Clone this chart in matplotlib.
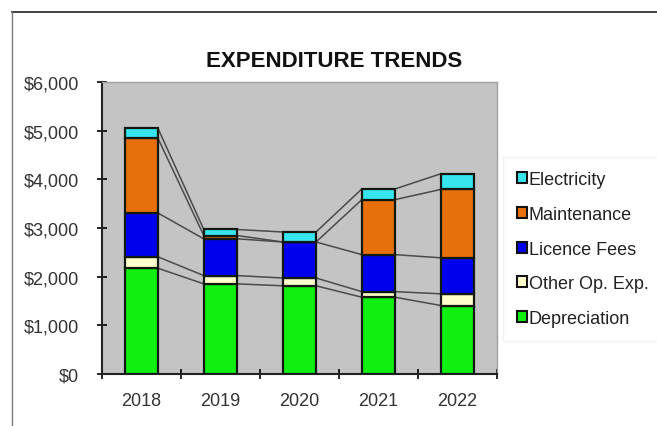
import matplotlib.pyplot as plt
from matplotlib.lines import Line2D
from matplotlib.ticker import FuncFormatter
import numpy as np

plt.rcParams['font.family'] = ['Liberation Sans', 'DejaVu Sans']

years = ['2018', '2019', '2020', '2021', '2022']
depreciation = [2170, 1850, 1810, 1575, 1405]
other_op = [235, 170, 160, 115, 240]
licence = [900, 755, 740, 760, 740]
maintenance = [1535, 68, 0, 1130, 1405]
electricity = [206, 124, 205, 220, 322]

series = [
    ('Depreciation', depreciation, '#10f010'),
    ('Other Op. Exp.', other_op, '#ffffcc'),
    ('Licence Fees', licence, '#0000ee'),
    ('Maintenance', maintenance, '#e8700c'),
    ('Electricity', electricity, '#38e4ee'),
]

fig = plt.figure(figsize=(6.57, 4.27), dpi=100)
ax = fig.add_axes([0.155, 0.122, 0.6015, 0.684])
ax.set_facecolor('#c4c4c4')

x = np.arange(len(years))
w = 0.42
bottom = np.zeros(len(years))
tops = []
for name, vals, col in series:
    vals = np.array(vals, dtype=float)
    ax.bar(x, vals, w, bottom=bottom, color=col, edgecolor='#101810',
           linewidth=1.6, label=name, zorder=3)
    bottom = bottom + vals
    tops.append(bottom.copy())

# series lines between bars
for t in tops:
    for j in range(len(years) - 1):
        ax.plot([x[j] + w / 2, x[j + 1] - w / 2], [t[j], t[j + 1]],
                color='#4a4a4a', lw=1.1, zorder=2)

ax.set_xlim(-0.5, len(years) - 0.5)
ax.set_ylim(0, 6000)
ax.set_yticks(range(0, 6001, 1000))
ax.yaxis.set_major_formatter(FuncFormatter(lambda v, p: '${:,.0f}'.format(v)))
ax.set_xticks(x)
ax.set_xticklabels(years)
ax.set_xticks(np.arange(-0.5, len(years), 1), minor=True)
ax.tick_params(axis='x', which='major', length=0, pad=13, labelsize=13,
               labelcolor='#333333')
ax.tick_params(axis='x', which='minor', direction='inout', length=7,
               width=1.2)
ax.tick_params(axis='y', direction='inout', length=7, width=1.2,
               pad=13, labelsize=13, labelcolor='#333333')
for s in ['left', 'bottom']:
    ax.spines[s].set_linewidth(1.5)
    ax.spines[s].set_color('#222222')
for s in ['top', 'right']:
    ax.spines[s].set_color('#a0a0a0')
    ax.spines[s].set_linewidth(1)

fig.text(0.508, 0.856, 'EXPENDITURE TRENDS', ha='center', va='center',
         fontsize=16, fontweight='bold', color='#111111')

leg_handles = [plt.Rectangle((0, 0), 1, 1, facecolor=c, edgecolor='#111111',
                             linewidth=1.5) for _, _, c in series][::-1]
leg_labels = [n for n, _, _ in series][::-1]
leg = fig.legend(leg_handles, leg_labels, loc='center left',
                 bbox_to_anchor=(0.765, 0.4145), fontsize=13,
                 handlelength=0.55, handleheight=0.55, handletextpad=0.1,
                 labelspacing=0.98, borderpad=0.8, fancybox=False,
                 frameon=True, edgecolor='#efefef', borderaxespad=0)
for t in leg.get_texts():
    t.set_color('#222222')

# outer chart frame (top and left edges visible)
fig.add_artist(Line2D([12 / 657, 1], [1 - 13 / 427, 1 - 13 / 427],
                      color='#222222', lw=1.2, transform=fig.transFigure))
fig.add_artist(Line2D([12 / 657, 12 / 657], [0, 1 - 13 / 427],
                      color='#777777', lw=1.0, transform=fig.transFigure))

fig.savefig('out.png', dpi=100)
